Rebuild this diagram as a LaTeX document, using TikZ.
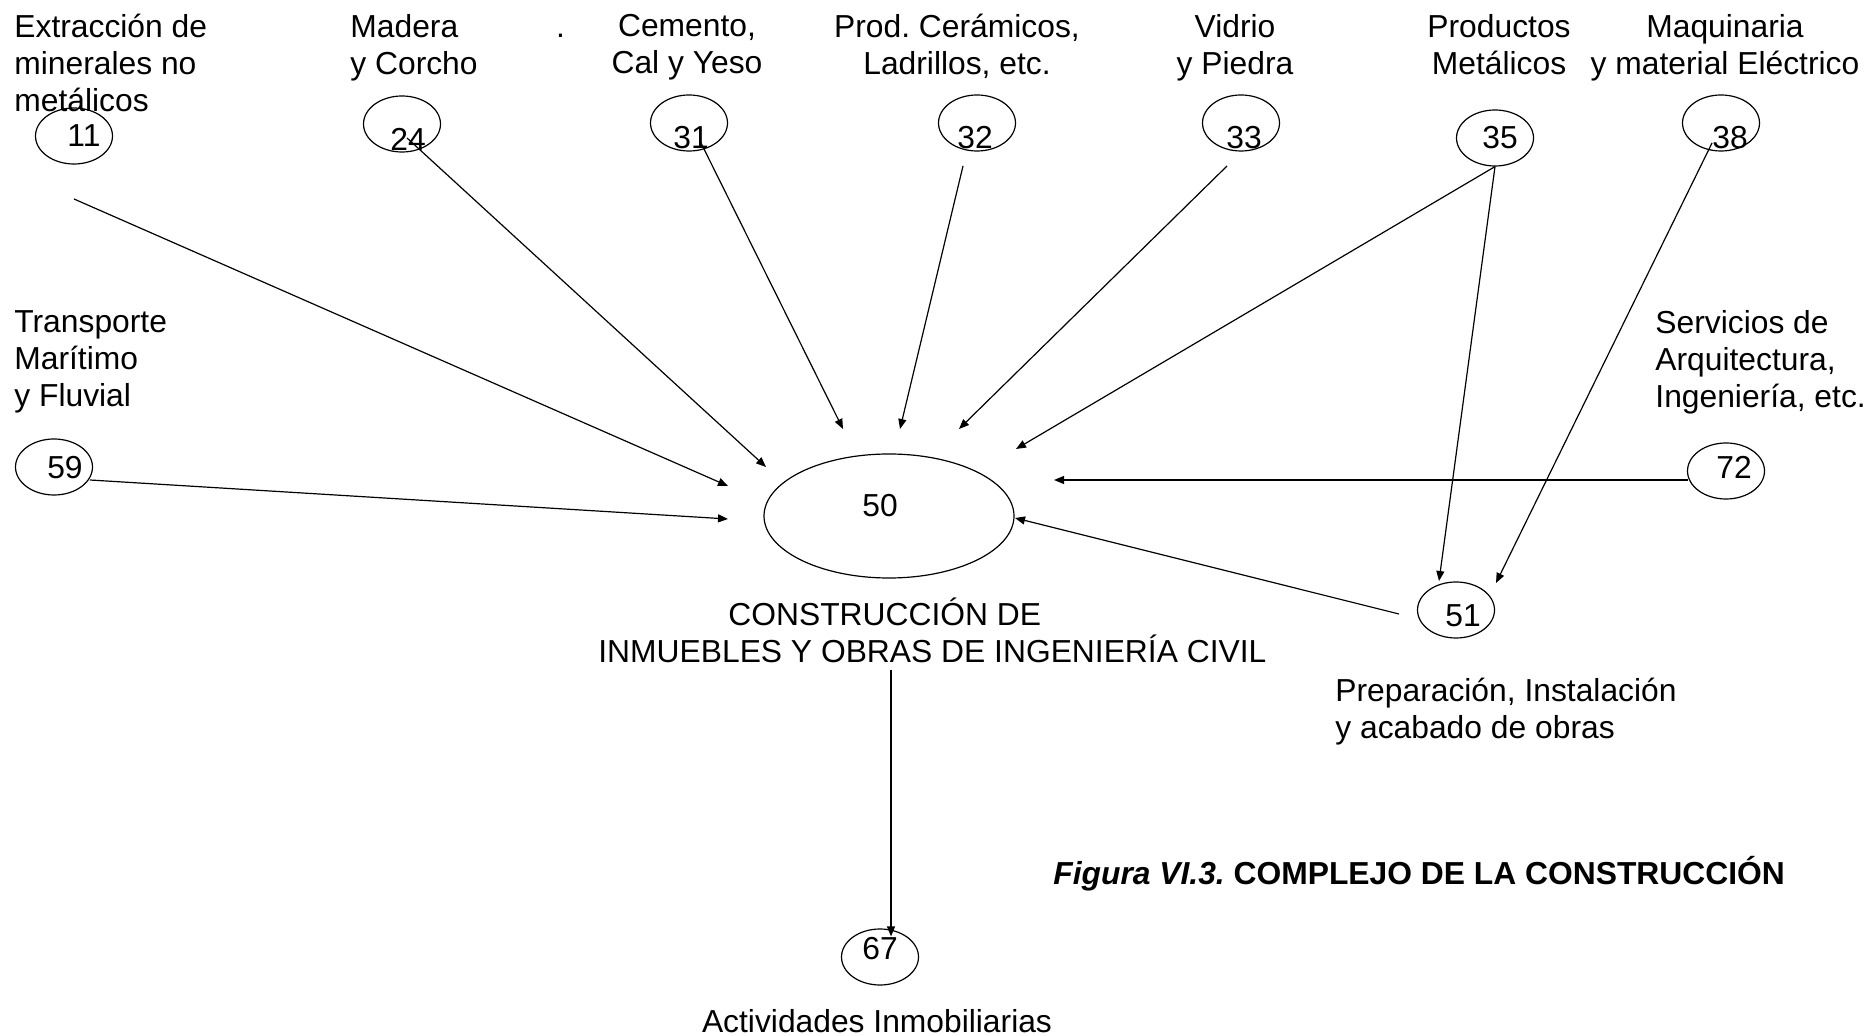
\documentclass[tikz,border=0pt]{standalone}
\usepackage{fontspec}
\setmainfont{Liberation Sans}
\frenchspacing
\usetikzlibrary{arrows.meta,positioning,shapes.geometric,calc}

\begin{document}
\begin{tikzpicture}
	[ x=0.5pt, y=-0.5pt,
		every node/.style={font=\fontsize{15.9}{18.5}\selectfont},
		sector/.style={ellipse,draw,semithick,minimum width=38.5pt,minimum height=28pt,inner sep=0pt},
		label/.style={align=left,anchor=north west,inner sep=0pt},
		clabel/.style={align=center,anchor=north,inner sep=0pt},
		arrowOut/.style={-{Triangle[length=5pt,width=4pt]},semithick}]

	\useasboundingbox (0,0) rectangle (1868,1036);

	% sectors
	\node[sector] (n11) at (74,136) {};
	\node[sector] (n24) at (402,124) {};
	\node[sector] (n31) at (689,123) {};
	\node[sector] (n32) at (977,123) {};
	\node[sector] (n33) at (1241,123) {};
	\node[sector] (n35) at (1495,138) {};
	\node[sector] (n38) at (1721,123) {};
	\node[sector] (n59) at (54,467) {};
	\node[sector] (n72) at (1726,471) {};
	\node[sector] (n51) at (1456,610) {};
	\node[sector] (n67) at (880,957) {};
	\node[sector,minimum width=125pt,minimum height=62pt] (n50) at (889,516) {};

	% numbers
	\node (c11) at ($(n11)+(10,0)$) {11};
	\node (c24) at ($(n24)+(6,15)$) {24};
	\node (c31) at ($(n31)+(2,15)$) {31};
	\node (c32) at ($(n32)+(-2,15)$) {32};
	\node (c33) at ($(n33)+(3,15)$) {33};
	\node (c35) at ($(n35)+(5,0)$) {35};
	\node (c38) at ($(n38)+(9,15)$) {38};
	\node (c59) at ($(n59)+(11,1)$) {59};
	\node (c72) at ($(n72)+(8,-4)$) {72};
	\node (c51) at ($(n51)+(7,6)$) {51};
	\node (c67) at ($(n67)+(0,-8)$) {67};
	\node (c50) at ($(n50)+(-9,-10)$) {50};

	% texts
	\node[label] (l11) at (14,14) {Extracción de\\minerales no\\metálicos};
	\node[label] (l24) at (350,14) {Madera\hspace{49pt}.\\y Corcho};
	\node[clabel] (l31) at (687,14) {Cemento,\\Cal y Yeso};
	\node[clabel] (l32) at (957,14) {Prod. Cerámicos,\\Ladrillos, etc.};
	\node[clabel] (l33) at (1235,14) {Vidrio\\y Piedra};
	\node[clabel] (l35) at (1499,14) {Productos\\Metálicos};
	\node[clabel] (l38) at (1725,14) {Maquinaria\\y material Eléctrico};
	\node[label] (l59) at (14,310) {Transporte\\Marítimo\\y Fluvial};
	\node[label] (l72) at (1655,310) {Servicios de\\Arquitectura,\\Ingeniería, etc.};
	\node[label] (l51) at (1335,678) {Preparación, Instalación\\y acabado de obras};
	\node[label] (l50) at (598,598) {\hspace*{65pt}CONSTRUCCIÓN DE\\INMUEBLES Y OBRAS DE INGENIERÍA CIVIL};
	\node[anchor=base,inner sep=0pt] (l67) at (877,1032) {Actividades Inmobiliarias};
	\node[anchor=base west,inner sep=0pt] (fig) at (1053,884)
		{\textbf{\textit{Figura VI.3.} COMPLEJO DE LA CONSTRUCCIÓN}};

	% arrow tips
	\coordinate (in11) at (728,486);
	\coordinate (in24) at (766,467);
	\coordinate (in31) at (843,429);
	\coordinate (in32) at (900,429);
	\coordinate (in33) at (959,429);
	\coordinate (in35) at (1016,449);
	\coordinate (in59) at (728,519);
	\coordinate (in72) at (1054,480);
	\coordinate (in51) at (1015,518);
	\coordinate (to51a) at ($(n51)+(-17,-29)$);
	\coordinate (to51b) at ($(n51)+(40,-27)$);
	\coordinate (in67) at ($(n67.north)+(11,8)$);

	\draw[arrowOut] ($(n11)+(0,63)$) -- (in11);
	\draw[arrowOut] ($(n24)+(5,14)$) -- (in24);
	\draw[arrowOut] ($(n31)+(11,18)$) -- (in31);
	\draw[arrowOut] ($(n32)+(-14,43)$) -- (in32);
	\draw[arrowOut] ($(n33)+(-14,43)$) -- (in33);
	\draw[arrowOut] (n35.south) -- (in35);
	\draw[arrowOut] (n35.south) -- (to51a);
	\draw[arrowOut] ($(n38)+(-9,20)$) -- (to51b);
	\draw[arrowOut] ($(n59)+(36,13)$) -- (in59);
	\draw[arrowOut] ($(n72.west)+(1,9)$) -- (in72);
	\draw[arrowOut] ($(n51)+(-57,4)$) -- (in51);
	\draw[arrowOut,shorten <=3pt] (in67 |- l50.south) -- (in67);
\end{tikzpicture}
\end{document}
